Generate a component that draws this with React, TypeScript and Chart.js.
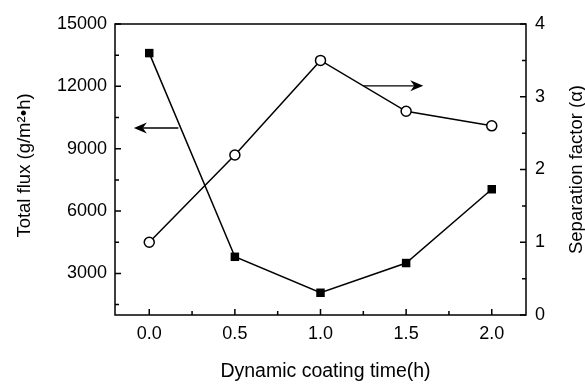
import React, { useEffect, useRef } from "react";
import { Chart, registerables } from "chart.js";

Chart.register(...registerables);

const times = [0.0, 0.5, 1.0, 1.5, 2.0];
const totalFlux = [13600, 3800, 2070, 3500, 7050];
const separationFactor = [1.0, 2.2, 3.5, 2.8, 2.6];

const xTicks = [0.0, 0.5, 1.0, 1.5, 2.0];
const xMinor = [0.25, 0.75, 1.25, 1.75];
const fluxTicks = [3000, 6000, 9000, 12000, 15000];
const fluxMinor = [1500, 4500, 7500, 10500, 13500];
const sepTicks = [0, 1, 2, 3, 4];
const sepMinor = [0.5, 1.5, 2.5, 3.5];

const xTitle = "Dynamic coating time(h)";
const leftTitle = "Total flux (g/m\u00B2\u2022h)";
const rightTitle = "Separation factor (\u03B1)";

// arrows: [x, y] in data coordinates (from -> to), with axis id
const fluxArrow = { axis: "y", from: [0.17, 10000], to: [-0.09, 10000] };
const sepArrow = { axis: "y1", from: [1.25, 3.15], to: [1.6, 3.15] };

const FONT = '"Liberation Sans", Arial, Helvetica, sans-serif';

export default function App() {
  const ref = useRef<HTMLCanvasElement | null>(null);

  useEffect(() => {
    document.body.style.margin = "0";
    const canvas = ref.current;
    if (!canvas) return;

    const decor = {
      id: "decor",
      afterDraw(chart: any) {
        const { ctx, chartArea: a, scales } = chart;
        const x = scales.x, y = scales.y, y1 = scales.y1;
        ctx.save();
        ctx.strokeStyle = "#000";
        ctx.fillStyle = "#000";
        ctx.lineWidth = 1.5;
        // frame
        ctx.strokeRect(a.left, a.top, a.right - a.left, a.bottom - a.top);
        // inward ticks
        const major = 6, minor = 4;
        ctx.beginPath();
        xTicks.forEach((v) => {
          const p = x.getPixelForValue(v);
          ctx.moveTo(p, a.bottom); ctx.lineTo(p, a.bottom - major);
        });
        xMinor.forEach((v) => {
          const p = x.getPixelForValue(v);
          ctx.moveTo(p, a.bottom); ctx.lineTo(p, a.bottom - minor);
        });
        fluxTicks.forEach((v) => {
          const p = y.getPixelForValue(v);
          ctx.moveTo(a.left, p); ctx.lineTo(a.left + major, p);
        });
        fluxMinor.forEach((v) => {
          const p = y.getPixelForValue(v);
          ctx.moveTo(a.left, p); ctx.lineTo(a.left + minor, p);
        });
        sepTicks.forEach((v) => {
          const p = y1.getPixelForValue(v);
          ctx.moveTo(a.right, p); ctx.lineTo(a.right - major, p);
        });
        sepMinor.forEach((v) => {
          const p = y1.getPixelForValue(v);
          ctx.moveTo(a.right, p); ctx.lineTo(a.right - minor, p);
        });
        ctx.stroke();

        // arrows
        [fluxArrow, sepArrow].forEach((ar) => {
          const ys = scales[ar.axis];
          const x0 = x.getPixelForValue(ar.from[0]);
          const y0 = ys.getPixelForValue(ar.from[1]);
          const x1 = x.getPixelForValue(ar.to[0]);
          const y1p = ys.getPixelForValue(ar.to[1]);
          const dir = Math.sign(x1 - x0);
          ctx.lineWidth = 1.4;
          ctx.beginPath();
          ctx.moveTo(x0, y0);
          ctx.lineTo(x1 - dir * 6, y1p);
          ctx.stroke();
          ctx.beginPath();
          ctx.moveTo(x1, y1p);
          ctx.lineTo(x1 - dir * 13, y1p - 5.5);
          ctx.lineTo(x1 - dir * 9, y1p);
          ctx.lineTo(x1 - dir * 13, y1p + 5.5);
          ctx.closePath();
          ctx.fill();
        });

        // titles
        ctx.textAlign = "center";
        ctx.textBaseline = "middle";
        ctx.font = "19.5px " + FONT;
        ctx.fillText(xTitle, (a.left + a.right) / 2 + 5, 372);
        ctx.font = "18.5px " + FONT;
        const cy = (a.top + a.bottom) / 2;
        ctx.save();
        ctx.translate(25, cy - 4);
        ctx.rotate(-Math.PI / 2);
        ctx.fillText(leftTitle, 0, 0);
        ctx.restore();
        ctx.save();
        ctx.translate(577, cy);
        ctx.rotate(-Math.PI / 2);
        ctx.fillText(rightTitle, 0, 0);
        ctx.restore();
        ctx.restore();
      },
    };

    const tickFont = { family: FONT, size: 18 };

    const chart = new Chart(canvas, {
      type: "line",
      data: {
        datasets: [
          {
            label: "Total flux",
            data: times.map((t, i) => ({ x: t, y: totalFlux[i] })),
            yAxisID: "y",
            borderColor: "#000",
            borderWidth: 1.5,
            backgroundColor: "#000",
            pointStyle: "rect",
            pointRadius: 6,
            pointBorderWidth: 0,
            pointBackgroundColor: "#000",
            tension: 0,
          },
          {
            label: "Separation factor",
            data: times.map((t, i) => ({ x: t, y: separationFactor[i] })),
            yAxisID: "y1",
            borderColor: "#000",
            borderWidth: 1.5,
            backgroundColor: "#fff",
            pointStyle: "circle",
            pointRadius: 5,
            pointBorderWidth: 1.5,
            pointBorderColor: "#000",
            pointBackgroundColor: "#fff",
            tension: 0,
          },
        ],
      },
      options: {
        animation: false,
        responsive: false,
        devicePixelRatio: 1,
        layout: { padding: { top: 24, left: 0, right: 0, bottom: 0 } },
        plugins: { legend: { display: false }, tooltip: { enabled: false } },
        scales: {
          x: {
            type: "linear",
            min: -0.2,
            max: 2.2,
            grid: { display: false, drawTicks: false },
            border: { display: false },
            afterBuildTicks: (s: any) => { s.ticks = xTicks.map((v) => ({ value: v })); },
            afterFit: (s: any) => { s.height = 69; },
            ticks: {
              padding: 8,
              color: "#000",
              font: tickFont,
              maxRotation: 0,
              callback: (v: any) => Number(v).toFixed(1),
            },
          },
          y: {
            type: "linear",
            position: "left",
            min: 1000,
            max: 15000,
            grid: { display: false, drawTicks: false },
            border: { display: false },
            afterBuildTicks: (s: any) => { s.ticks = fluxTicks.map((v) => ({ value: v })); },
            afterFit: (s: any) => { s.width = 115; },
            ticks: { padding: 8, color: "#000", font: tickFont, callback: (v: any) => String(v) },
          },
          y1: {
            type: "linear",
            position: "right",
            min: 0,
            max: 4,
            grid: { display: false, drawTicks: false },
            border: { display: false },
            afterBuildTicks: (s: any) => { s.ticks = sepTicks.map((v) => ({ value: v })); },
            afterFit: (s: any) => { s.width = 59; },
            ticks: { padding: 9, color: "#000", font: tickFont, callback: (v: any) => String(v) },
          },
        },
      },
      plugins: [decor],
    });

    return () => chart.destroy();
  }, []);

  return (
    <div style={{ width: 585, height: 384, background: "#fff" }}>
      <canvas ref={ref} width={585} height={384} style={{ display: "block" }} />
    </div>
  );
}
